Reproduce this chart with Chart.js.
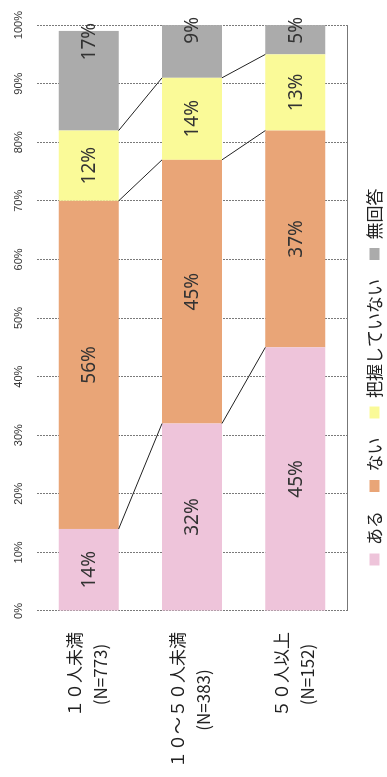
<!DOCTYPE html>
<html lang="ja">
<head>
<meta charset="utf-8">
<script src="https://cdn.jsdelivr.net/npm/chart.js@4.4.1/dist/chart.umd.min.js"></script>
<style>
  html, body { margin: 0; padding: 0; background: #fff; overflow: hidden; width: 387px; height: 777px; }
  /* the chart is laid out landscape and turned a quarter turn counter-clockwise */
  #wrap { position: absolute; left: 0; top: 0; width: 777px; height: 387px;
          transform-origin: 0 0; transform: translate(0, 777px) rotate(-90deg); }
  canvas { display: block; }
</style>
</head>
<body>
<div id="wrap"><canvas id="c" width="777" height="387"></canvas></div>
<script>
// 従業員規模別の回答割合（％）
const categories = ['１０人未満', '１０～５０人未満', '５０人以上'];
const sampleSizes = [773, 383, 152];
const seriesNames = ['ある', 'ない', '把握していない', '無回答'];
const aru = [14, 32, 45];
const nai = [56, 45, 37];
const haakuShiteinai = [12, 14, 13];
const mukaito = [17, 9, 5];
const tickLabels = ['0%', '10%', '20%', '30%', '40%', '50%', '60%', '70%', '80%', '90%', '100%'];

const seriesValues = [aru, nai, haakuShiteinai, mukaito];
const seriesColors = ['#EEC4DA', '#E9A577', '#FAFA98', '#ABABAB'];

// thin connectors between the segment boundaries of neighbouring bars
const seriesLines = {
  id: 'seriesLines',
  afterDatasetsDraw(chart) {
    const ctx = chart.ctx;
    ctx.save();
    ctx.strokeStyle = '#222';
    ctx.lineWidth = 1;
    for (let d = 0; d < chart.data.datasets.length - 1; d++) {
      const bars = chart.getDatasetMeta(d).data;
      for (let i = 0; i < bars.length - 1; i++) {
        const a = bars[i], b = bars[i + 1];
        ctx.beginPath();
        ctx.moveTo(a.x, a.y + a.height / 2);
        ctx.lineTo(b.x, b.y - b.height / 2);
        ctx.stroke();
      }
    }
    ctx.restore();
  }
};

// percentage text on each segment
const segmentLabels = {
  id: 'segmentLabels',
  afterDatasetsDraw(chart) {
    const ctx = chart.ctx;
    const last = chart.data.datasets.length - 1;
    ctx.save();
    ctx.font = '19px "Noto Sans", sans-serif';
    ctx.fillStyle = '#333';
    ctx.textAlign = 'center';
    ctx.textBaseline = 'middle';
    chart.data.datasets.forEach((ds, d) => {
      chart.getDatasetMeta(d).data.forEach((bar, i) => {
        const text = ds.data[i] + '%';
        const w = ctx.measureText(text).width;
        let x = (bar.x + bar.base) / 2;
        if (d === last) x = bar.x - w / 2 + 8;
        ctx.fillText(text, x, bar.y + 1);
      });
    });
    ctx.restore();
  }
};

// two-line category labels, each block centred on its own widest line
const categoryLabels = {
  id: 'categoryLabels',
  afterDraw(chart) {
    const { ctx, chartArea } = chart;
    const yScale = chart.scales.y;
    ctx.save();
    ctx.font = '17px "Noto Sans CJK JP", sans-serif';
    ctx.fillStyle = '#222';
    ctx.textAlign = 'center';
    ctx.textBaseline = 'middle';
    categories.forEach((cat, i) => {
      const lines = [cat, '(N=' + sampleSizes[i] + ')'];
      const widest = Math.max(...lines.map(l => ctx.measureText(l).width));
      const cx = chartArea.left - 21 - widest / 2;
      const cy = yScale.getPixelForValue(i);
      lines.forEach((l, k) => ctx.fillText(l, cx, cy - 1 + (k - 0.5) * 26));
    });
    ctx.restore();
  }
};

// solid frame line along the plot edge opposite the value axis
const plotFrame = {
  id: 'plotFrame',
  afterDraw(chart) {
    const { ctx, chartArea } = chart;
    ctx.save();
    ctx.strokeStyle = '#777';
    ctx.lineWidth = 1;
    ctx.beginPath();
    ctx.moveTo(chartArea.left, Math.round(chartArea.bottom) + 0.5);
    ctx.lineTo(chartArea.right, Math.round(chartArea.bottom) + 0.5);
    ctx.stroke();
    ctx.restore();
  }
};

new Chart(document.getElementById('c'), {
  type: 'bar',
  data: {
    labels: categories,
    datasets: seriesNames.map((name, k) => ({
      label: name,
      data: seriesValues[k],
      backgroundColor: seriesColors[k],
      borderWidth: 0,
      barPercentage: 0.58,
      categoryPercentage: 1.0
    }))
  },
  options: {
    indexAxis: 'y',
    responsive: false,
    animation: false,
    devicePixelRatio: 1,
    layout: { padding: { top: 0, left: 45, right: 22, bottom: -6 } },
    plugins: {
      tooltip: { enabled: false },
      legend: {
        position: 'bottom',
        labels: {
          boxWidth: 12,
          boxHeight: 10,
          padding: 19,
          color: '#222',
          font: { family: '"Noto Sans CJK JP", sans-serif', size: 17 }
        }
      }
    },
    scales: {
      x: {
        type: 'linear',
        position: 'top',
        stacked: true,
        min: 0,
        max: 100,
        afterFit(scale) { scale.height = 37; },
        ticks: {
          stepSize: 10,
          padding: 11,
          color: '#333',
          font: { family: '"Liberation Sans", sans-serif', size: 11 },
          callback: (v, i) => tickLabels[i]
        },
        grid: { color: '#7a7a7a', lineWidth: 1, drawTicks: false },
        border: { display: false, dash: [2, 1] }
      },
      y: {
        type: 'category',
        stacked: true,
        afterFit(scale) { scale.width = 121; },
        ticks: { display: false },
        grid: { display: false },
        border: { display: false }
      }
    }
  },
  plugins: [seriesLines, segmentLabels, categoryLabels, plotFrame]
});
</script>
</body>
</html>
